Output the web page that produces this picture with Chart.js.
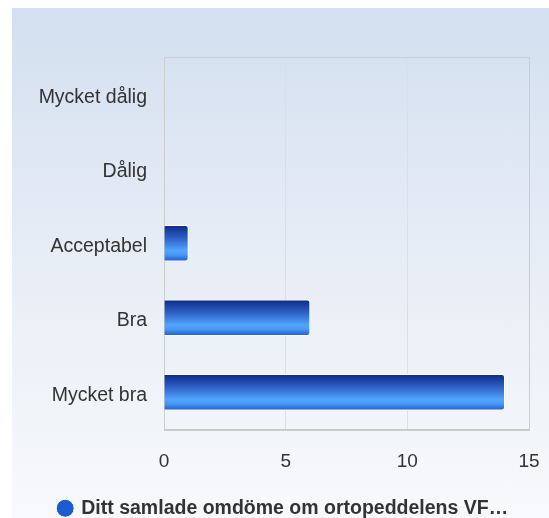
<!DOCTYPE html>
<html>
<head>
<meta charset="utf-8">
<script src="https://cdn.jsdelivr.net/npm/chart.js@4"></script>
<style>
  body { margin: 0; background: #fff; overflow: hidden; }
  #wrap {
    position: absolute; left: 12px; top: 8px; width: 537px; height: 510px; overflow: hidden;
    background: linear-gradient(to bottom, #d3dff0 0%, #e6ecf5 45%, #f8f9fc 100%);
  }
</style>
</head>
<body>
<div id="wrap"><canvas id="chart" width="537" height="520"></canvas></div>
<script>
const categories = ["Mycket dålig", "Dålig", "Acceptabel", "Bra", "Mycket bra"];
const answers = [0, 0, 1, 6, 14];
const seriesLabel = "Ditt samlade omdöme om ortopeddelens VF…";
const xTicks = [0, 5, 10, 15];

const textColor = "#333333";
const fontFamily = "'Liberation Sans', Arial, sans-serif";
const barSize = 36;
const legendShift = 13;

// vertical gradient for each bar, built from the bar's own row on the y scale
function barGradient(context) {
  const chart = context.chart;
  const yScale = chart.scales.y;
  if (!yScale || context.dataIndex === undefined) return "#2d6fd8";
  const y = yScale.getPixelForValue(context.dataIndex);
  if (!isFinite(y)) return "#2d6fd8";
  const g = chart.ctx.createLinearGradient(0, y - barSize / 2, 0, y + barSize / 2);
  g.addColorStop(0, "#0c2a85");
  g.addColorStop(0.35, "#2c5fc4");
  g.addColorStop(0.7, "#51a4fc");
  g.addColorStop(0.82, "#4a98f2");
  g.addColorStop(1, "#1c5bd0");
  return g;
}

// frame round the plot area, legend nudged right, gradient legend dot
const chartDecor = {
  id: "chartDecor",
  afterLayout(chart) {
    const lg = chart.legend;
    lg.left += legendShift;
    lg.right += legendShift;
    const box = lg.legendHitBoxes[0];
    if (!box) return;
    const x0 = box.left + legendShift - 3;
    const g = chart.ctx.createLinearGradient(x0, 0, x0 + 18, 0);
    g.addColorStop(0, "#6aaeff");
    g.addColorStop(0.4, "#1a46b3");
    g.addColorStop(1, "#4a92f2");
    lg.legendItems[0].fillStyle = g;
  },
  beforeDatasetsDraw(chart) {
    const { ctx, chartArea: a } = chart;
    ctx.save();
    ctx.strokeStyle = "#cdcdcd";
    ctx.lineWidth = 1;
    ctx.strokeRect(Math.round(a.left) + 0.5, Math.round(a.top) + 0.5,
      Math.round(a.right - a.left), Math.round(a.bottom - a.top));
    ctx.restore();
  }
};

new Chart(document.getElementById("chart"), {
  type: "bar",
  data: {
    labels: categories,
    datasets: [{
      label: seriesLabel,
      data: answers,
      backgroundColor: barGradient,
      borderColor: "#ffffff",
      borderWidth: 1,
      borderRadius: 3,
      barThickness: barSize
    }]
  },
  options: {
    indexAxis: "y",
    responsive: false,
    animation: false,
    layout: { padding: { top: 49, right: 20, left: 0, bottom: 0 } },
    scales: {
      x: {
        min: 0,
        max: 15,
        afterBuildTicks: axis => { axis.ticks = xTicks.map(v => ({ value: v })); },
        afterFit: axis => { axis.height = 67; },
        grid: { color: "#dedede", drawTicks: true, tickLength: 18, tickColor: "rgba(0,0,0,0)" },
        border: { color: "#c8c8c8" },
        ticks: { color: textColor, padding: 3, font: { family: fontFamily, size: 19 } }
      },
      y: {
        afterFit: axis => { axis.width = 152; },
        grid: { display: false, drawTicks: false },
        border: { color: "#c8c8c8" },
        ticks: { color: textColor, padding: 17, labelOffset: 3, font: { family: fontFamily, size: 19.5 } }
      }
    },
    plugins: {
      legend: {
        position: "bottom",
        labels: {
          usePointStyle: true,
          pointStyle: "circle",
          boxWidth: 12.7,
          boxHeight: 12.7,
          padding: 2,
          color: textColor,
          font: { family: fontFamily, size: 19.5, weight: "bold" }
        }
      },
      tooltip: { enabled: false }
    }
  },
  plugins: [chartDecor]
});
</script>
</body>
</html>
